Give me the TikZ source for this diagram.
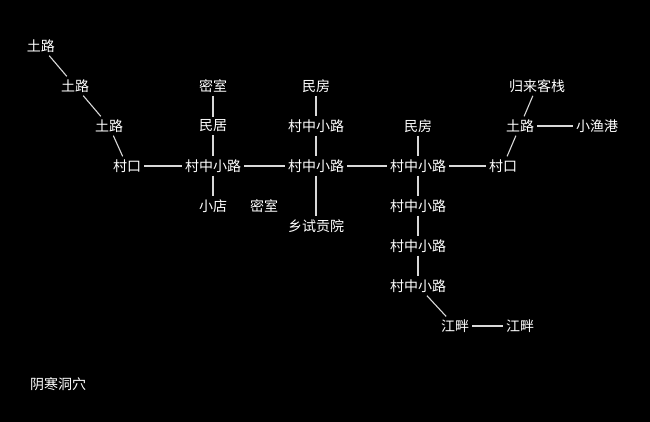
\documentclass[tikz,border=0pt]{standalone}
\usepackage{fontspec}
\setmainfont{Noto Sans CJK SC}
\begin{document}
\begin{tikzpicture}[x=1pt, y=-1pt, room/.style={text=white, font=\fontsize{14}{14}\selectfont, inner sep=3pt}, link/.style={draw=white!85!black, line width=1.1pt}]
	% Background
	\fill[black] (0,0) rectangle (650,422);
	\useasboundingbox (0,0) rectangle (650,422);

	% Nodes
	\node [room] (tl1) at (41,46) {土路};
	\node [room] (tl2) at (75,86) {土路};
	\node [room] (tl3) at (109,126) {土路};
	\node [room] (ck1) at (127,166) {村口};
	\node [room] (cz1) at (213,166) {村中小路};
	\node [room] (ms1) at (213,86) {密室};
	\node [room] (mj) at (213,126) {民居};
	\node [room] (xd) at (213,206) {小店};
	\node [room] (ms2) at (264,206) {密室};
	\node [room] (cz2) at (316,166) {村中小路};
	\node [room] (cz3) at (316,126) {村中小路};
	\node [room] (mf1) at (316,86) {民房};
	\node [room] (xs) at (316,226) {乡试贡院};
	\node [room] (cz4) at (418,166) {村中小路};
	\node [room] (mf2) at (418,126) {民房};
	\node [room] (cz5) at (418,206) {村中小路};
	\node [room] (cz6) at (418,246) {村中小路};
	\node [room] (cz7) at (418,286) {村中小路};
	\node [room] (jp1) at (455,326) {江畔};
	\node [room] (jp2) at (520,326) {江畔};
	\node [room] (ck2) at (503,166) {村口};
	\node [room] (tl4) at (520,126) {土路};
	\node [room] (gl) at (537,86) {归来客栈};
	\node [room] (xy) at (597,126) {小渔港};
	\node [room] (hd) at (58,384) {阴寒洞穴};

	% Links
	\draw[link] (tl1) -- (tl2);\draw[link] (tl2) -- (tl3);
	\draw[link] (tl3) -- (ck1);\draw[link] (ck1) -- (cz1);
	\draw[link] (ms1) -- (mj);\draw[link] (mj) -- (cz1);
	\draw[link] (cz1) -- (xd);\draw[link] (cz1) -- (cz2);
	\draw[link] (mf1) -- (cz3);\draw[link] (cz3) -- (cz2);
	\draw[link] (cz2) -- (xs);\draw[link] (cz2) -- (cz4);
	\draw[link] (mf2) -- (cz4);\draw[link] (cz4) -- (cz5);
	\draw[link] (cz5) -- (cz6);\draw[link] (cz6) -- (cz7);
	\draw[link] (cz7) -- (jp1);\draw[link] (jp1) -- (jp2);
	\draw[link] (cz4) -- (ck2);\draw[link] (ck2) -- (tl4);
	\draw[link] (tl4) -- (gl);\draw[link] (tl4) -- (xy);
\end{tikzpicture}
\end{document}
